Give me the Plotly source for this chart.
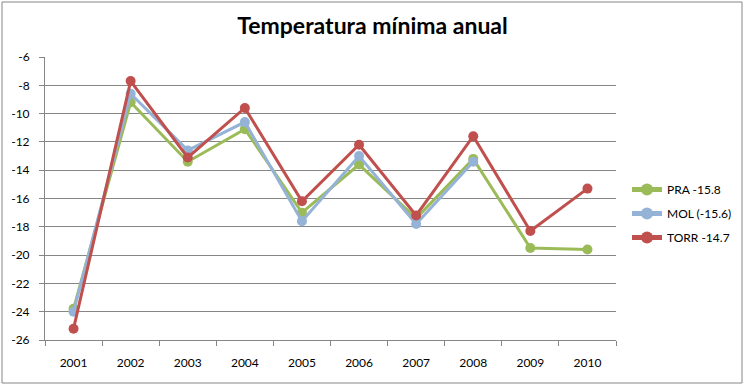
import plotly.graph_objects as go

years = ["2001", "2002", "2003", "2004", "2005", "2006", "2007", "2008", "2009", "2010"]
pra = [-23.8, -9.2, -13.4, -11.1, -17.0, -13.6, -17.4, -13.2, -19.5, -19.6]
mol = [-24.0, -8.6, -12.6, -10.6, -17.6, -13.0, -17.8, -13.4, None, None]
torr = [-25.2, -7.7, -13.1, -9.6, -16.2, -12.2, -17.2, -11.6, -18.3, -15.3]
names = ["PRA -15.8", "MOL (-15.6)", "TORR -14.7"]
colors = ["#9BBB59", "#95B3D7", "#C0504D"]
y_ticks = [-26, -24, -22, -20, -18, -16, -14, -12, -10, -8, -6]

FONT = "Lato"
fig = go.Figure()
for i, (vals, name, col) in enumerate(zip([pra, mol, torr], names, colors)):
    fig.add_trace(go.Scatter(
        x=years, y=vals, name=name, mode="lines+markers",
        legendgroup=f"g{i}",
        line=dict(color=col, width=3),
        marker=dict(color=col, size=10),
        connectgaps=False,
    ))

L, R, T, B = 45, 616, 57, 340
W, H = 745, 386
pw, ph = R - L, B - T

def px_x(p):
    return (p - L) / pw

def px_y(p):
    return (B - p) / ph

fig.update_layout(
    width=W, height=H,
    margin=dict(l=L, r=W - R, t=T, b=H - B, pad=0, autoexpand=False),
    paper_bgcolor="white", plot_bgcolor="white",
    font=dict(family=FONT, size=12, color="#000000"),
    title=dict(text="<b>Temperatura mínima anual</b>", x=0.5, xanchor="center",
               y=1 - 26 / H, yanchor="middle",
               font=dict(family=FONT, size=23, color="#000000")),
    showlegend=True,
    legend=dict(x=px_x(627), y=px_y(175), xanchor="left", yanchor="top",
                font=dict(family=FONT, size=12, color="#000000"),
                tracegroupgap=5, itemsizing="constant",
                bgcolor="rgba(0,0,0,0)"),
    xaxis=dict(type="category", range=[-0.5, 9.5], showgrid=False,
               showline=True, linecolor="#868686", linewidth=1,
               ticks="outside", tickson="boundaries", ticklen=5, tickcolor="#868686",
               ticklabelstandoff=12,
               tickfont=dict(family=FONT, size=12, color="#000000"),
               fixedrange=True, zeroline=False),
    yaxis=dict(range=[-26, -6], tickvals=y_ticks, ticktext=[str(v) for v in y_ticks],
               showgrid=True, gridcolor="#868686", gridwidth=1,
               showline=True, linecolor="#868686", linewidth=1,
               ticks="outside", ticklen=5, tickcolor="#868686",
               ticklabelstandoff=7,
               tickfont=dict(family=FONT, size=12, color="#000000"),
               zeroline=False, fixedrange=True),
    shapes=[dict(type="rect", xref="paper", yref="paper",
                 x0=px_x(2), x1=px_x(742), y0=px_y(383), y1=px_y(2),
                 line=dict(color="#868686", width=1), layer="below")],
)

fig.write_html("out.html", config={"displayModeBar": False},
               post_script="document.body.style.margin='0';document.body.style.overflow='hidden';")
